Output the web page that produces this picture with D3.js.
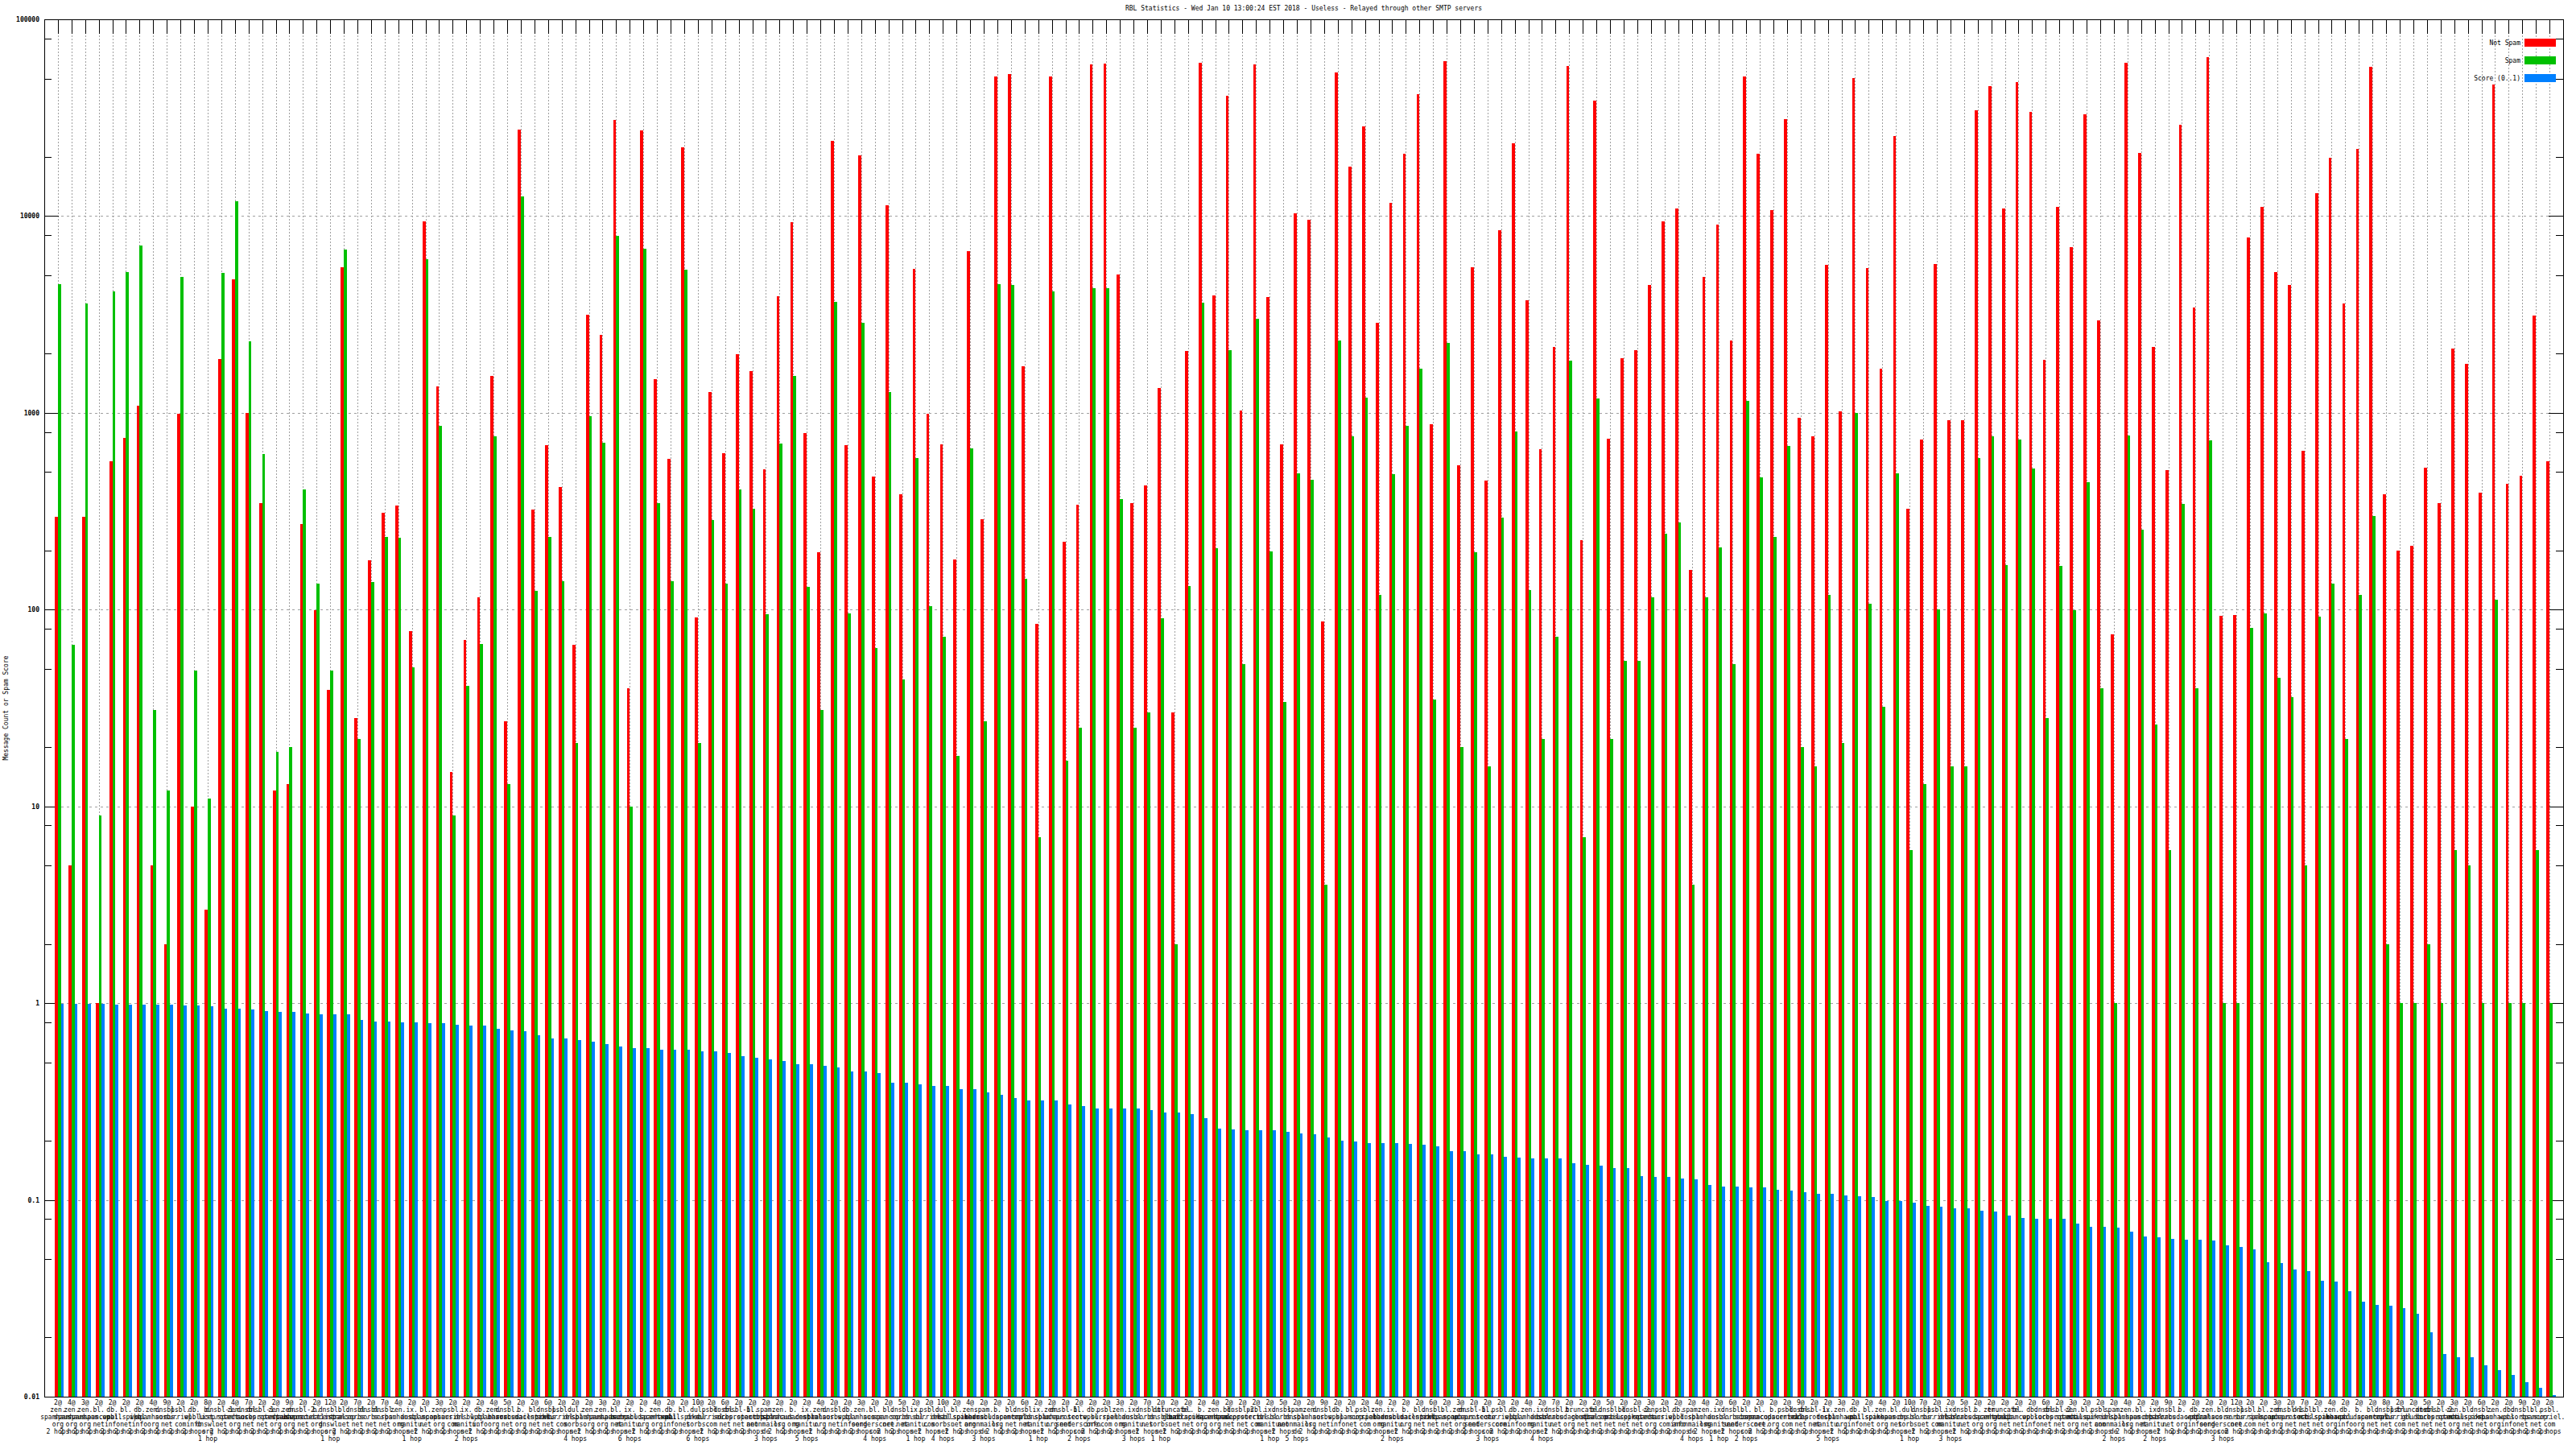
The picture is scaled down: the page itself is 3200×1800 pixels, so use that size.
<!DOCTYPE html>
<html><head><meta charset="utf-8">
<script src="https://cdn.jsdelivr.net/npm/d3@7"></script>
<style>body{margin:0;background:#fff}svg{display:block}</style>
</head><body>
<svg id="c" width="3200" height="1800"></svg>
<script>
const title = "RBL Statistics - Wed Jan 10 13:00:24 EST 2018 - Useless - Relayed through other SMTP servers";
const yAxisTitle = "Message Count or Spam Score";
const seriesNames = ["Not Spam", "Spam", "Score (0..1)"];
const seriesColors = ["#ff0000", "#00c000", "#0080ff"];
const yTickValues = [100000, 10000, 1000, 100, 10, 1, 0.1, 0.01];
const yTickLabels = ["100000", "10000", "1000", "100", "10", "1", "0.1", "0.01"];

const categories = [
"2@zen.spamhaus.org|2 hops","4@zen.spamhaus.org|2 hops","3@zen.spamhaus.org|2 hops","2@bl.spamcop.net|2 hops","2@db.wpbl.info|2 hops",
"2@bl.mailspike.net|2 hops","2@db.wpbl.info|2 hops","4@zen.spamhaus.org|2 hops","9@dnsbl.sorbs.net|2 hops","2@psbl.surriel.com|2 hops",
"2@db.wpbl.info|2 hops","8@b.list.dnswl.org|1 hop","2@dnsbl-1.uceprotect.net|2 hops","4@zen.spamhaus.org|2 hops","7@dnsbl.sorbs.net|2 hops",
"2@dnsbl-1.uceprotect.net|2 hops","2@zen.spamhaus.org|2 hops","9@zen.spamhaus.org|2 hops","2@dnsbl-2.uceprotect.net|2 hops","2@b.barracudacentral.org|2 hops",
"12@dnsbl.list.dnswl.org|1 hop","2@bl.spamcop.net|2 hops","7@dnsbl.sorbs.net|2 hops","2@dnsbl.sorbs.net|2 hops","7@dnsbl.sorbs.net|2 hops",
"4@zen.spamhaus.org|2 hops","2@ix.dnsbl.manitu.net|1 hop","2@bl.spamcop.net|2 hops","3@zen.spamhaus.org|2 hops","2@psbl.surriel.com|2 hops",
"2@ix.dnsbl.manitu.net|2 hops","2@db.wpbl.info|2 hops","4@zen.spamhaus.org|2 hops","5@dnsbl.sorbs.net|2 hops","2@b.barracudacentral.org|2 hops",
"2@bl.mailspike.net|2 hops","6@dnsbl.sorbs.net|2 hops","2@psbl.surriel.com|2 hops","2@dul.dnsbl.sorbs.net|4 hops","2@zen.spamhaus.org|2 hops",
"3@zen.spamhaus.org|2 hops","2@bl.spamcop.net|2 hops","2@ix.dnsbl.manitu.net|6 hops","2@b.barracudacentral.org|2 hops","4@zen.spamhaus.org|2 hops",
"2@db.wpbl.info|2 hops","2@bl.mailspike.net|2 hops","10@dul.dnsbl.sorbs.net|6 hops","2@psbl.surriel.com|2 hops","6@dnsbl.sorbs.net|2 hops",
"2@dnsbl-1.uceprotect.net|2 hops","2@bl.spamcop.net|2 hops","2@spam.dnsbl.anonmails.de|3 hops","2@zen.spamhaus.org|2 hops","2@b.barracudacentral.org|2 hops",
"2@ix.dnsbl.manitu.net|5 hops","4@zen.spamhaus.org|2 hops","2@dnsbl.sorbs.net|2 hops","2@db.wpbl.info|2 hops","3@zen.spamhaus.org|2 hops",
"2@bl.score.senderscore.com|4 hops","2@bl.spamcop.net|2 hops","5@dnsbl.sorbs.net|2 hops","2@ix.dnsbl.manitu.net|1 hop","2@psbl.surriel.com|2 hops",
"10@dul.dnsbl.sorbs.net|4 hops","2@bl.mailspike.net|2 hops","4@zen.spamhaus.org|2 hops","2@spam.dnsbl.anonmails.de|3 hops","2@b.barracudacentral.org|2 hops",
"2@bl.spamcop.net|2 hops","6@dnsbl.sorbs.net|2 hops","2@ix.dnsbl.manitu.net|1 hop","2@zen.spamhaus.org|2 hops","2@dnsbl-1.uceprotect.net|2 hops",
"2@bl.score.senderscore.com|2 hops","2@db.wpbl.info|2 hops","2@psbl.surriel.com|2 hops","3@zen.spamhaus.org|2 hops","2@ix.dnsbl.manitu.net|3 hops",
"7@dnsbl.sorbs.net|2 hops","2@dul.dnsbl.sorbs.net|1 hop","2@truncate.gbudb.net|2 hops","2@bl.mailspike.net|2 hops","2@b.barracudacentral.org|2 hops",
"4@zen.spamhaus.org|2 hops","2@bl.spamcop.net|2 hops","2@dnsbl-2.uceprotect.net|2 hops","2@psbl.surriel.com|2 hops","2@ix.dnsbl.manitu.net|1 hop",
"5@dnsbl.sorbs.net|2 hops","2@spam.dnsbl.anonmails.de|5 hops","2@zen.spamhaus.org|2 hops","9@dnsbl.sorbs.net|2 hops","2@db.wpbl.info|2 hops",
"2@bl.spamcop.net|2 hops","2@psbl.surriel.com|2 hops","4@zen.spamhaus.org|2 hops","2@ix.dnsbl.manitu.net|2 hops","2@b.barracudacentral.org|2 hops",
"2@bl.mailspike.net|2 hops","6@dnsbl.sorbs.net|2 hops","2@bl.spamcop.net|2 hops","3@zen.spamhaus.org|2 hops","2@dnsbl-1.uceprotect.net|2 hops",
"2@bl.score.senderscore.com|3 hops","2@psbl.surriel.com|2 hops","2@db.wpbl.info|2 hops","4@zen.spamhaus.org|2 hops","2@ix.dnsbl.manitu.net|4 hops",
"7@dnsbl.sorbs.net|2 hops","2@b.barracudacentral.org|2 hops","2@truncate.gbudb.net|2 hops","2@bl.spamcop.net|2 hops","5@dnsbl.sorbs.net|2 hops",
"2@bl.mailspike.net|2 hops","2@dnsbl-2.uceprotect.net|2 hops","3@zen.spamhaus.org|2 hops","2@psbl.surriel.com|2 hops","2@db.wpbl.info|2 hops",
"2@spam.dnsbl.anonmails.de|4 hops","4@zen.spamhaus.org|2 hops","2@ix.dnsbl.manitu.net|1 hop","6@dnsbl.sorbs.net|2 hops","2@bl.score.senderscore.com|2 hops",
"2@bl.spamcop.net|2 hops","2@b.barracudacentral.org|2 hops","2@psbl.surriel.com|2 hops","9@dnsbl.sorbs.net|2 hops","2@dnsbl-1.uceprotect.net|2 hops",
"2@ix.dnsbl.manitu.net|5 hops","3@zen.spamhaus.org|2 hops","2@db.wpbl.info|2 hops","2@bl.mailspike.net|2 hops","4@zen.spamhaus.org|2 hops",
"2@bl.spamcop.net|2 hops","10@dul.dnsbl.sorbs.net|1 hop","7@dnsbl.sorbs.net|2 hops","2@psbl.surriel.com|2 hops","2@ix.dnsbl.manitu.net|3 hops",
"5@dnsbl.sorbs.net|2 hops","2@b.barracudacentral.org|2 hops","2@zen.spamhaus.org|2 hops","2@truncate.gbudb.net|2 hops","2@bl.spamcop.net|2 hops",
"2@db.wpbl.info|2 hops","6@dnsbl.sorbs.net|2 hops","2@dnsbl-2.uceprotect.net|2 hops","3@zen.spamhaus.org|2 hops","2@bl.mailspike.net|2 hops",
"2@psbl.surriel.com|2 hops","2@spam.dnsbl.anonmails.de|2 hops","4@zen.spamhaus.org|2 hops","2@bl.spamcop.net|2 hops","2@ix.dnsbl.manitu.net|2 hops",
"9@dnsbl.sorbs.net|2 hops","2@b.barracudacentral.org|2 hops","2@db.wpbl.info|2 hops","2@zen.spamhaus.org|2 hops","2@bl.score.senderscore.com|3 hops",
"12@dnsbl.sorbs.net|2 hops","2@psbl.surriel.com|2 hops","2@bl.spamcop.net|2 hops","3@zen.spamhaus.org|2 hops","2@dnsbl-1.uceprotect.net|2 hops",
"7@dnsbl.sorbs.net|2 hops","2@bl.mailspike.net|2 hops","4@zen.spamhaus.org|2 hops","2@db.wpbl.info|2 hops","2@b.barracudacentral.org|2 hops",
"2@bl.spamcop.net|2 hops","8@dnsbl.sorbs.net|2 hops","2@psbl.surriel.com|2 hops","2@truncate.gbudb.net|2 hops","5@dnsbl.sorbs.net|2 hops",
"2@dnsbl-2.uceprotect.net|2 hops","3@zen.spamhaus.org|2 hops","2@bl.mailspike.net|2 hops","6@dnsbl.sorbs.net|2 hops","2@zen.spamhaus.org|2 hops",
"2@db.wpbl.info|2 hops","9@dnsbl.sorbs.net|2 hops","2@bl.spamcop.net|2 hops","2@psbl.surriel.com|2 hops"
];

const notSpam = [
296,5,296,1,566,748,1087,5,2,990,10,3,1880,4750,1000,349,12,13,272,99,39,5500,28,178,311,338,78,9400,1365,15,
70,116,1540,27,27500,321,682,420,66,3150,2480,30800,40,27200,1480,585,22400,91,1280,622,1980,1630,517,3910,9300,789,196,24000,682,20400,475,
11300,386,5380,990,690,180,6620,287,51200,52700,1730,85,51200,221,342,59000,59700,5060,349,429,1336,30,2060,60300,3950,40700,1030,59000,3860,690,10300,
9600,87,53800,17800,28600,2860,11700,20800,41600,875,61000,543,5500,452,8480,23500,3720,655,2170,57800,226,38600,741,1900,2080,4470,9400,10900,159,4910,9020,
2330,51200,20800,10700,31100,940,757,5660,1020,50100,5430,1680,25600,324,733,5730,920,920,34500,45600,10900,48100,33800,1860,11100,6960,32800,2960,75,60300,21000,
2170,512,29200,3420,64100,93,94,7800,11100,5170,4470,641,13100,19800,3600,21900,57200,386,200,212,527,349,2120,1780,394,46600,437,481,3110,566
];

const spam = [
4520,66,3600,9,4160,5170,7110,31,12,4910,49,11,5120,11900,2310,615,19,20,408,136,49,6760,22,138,233,231,51,6030,857,9,
41,67,757,13,12550,124,233,139,21,960,705,7960,10,6820,349,139,5320,21,284,135,408,324,95,697,1540,131,31,3670,96,2860,64,
1280,44,590,104,73,18,662,27,4520,4470,144,7,4160,17,25,4290,4290,364,25,30,90,2,132,3640,206,2080,53,3020,198,34,491,
456,4,2330,757,1200,119,486,857,1680,35,2260,20,196,16,293,805,126,22,73,1840,7,1180,22,55,55,116,243,278,4,116,208,
53,1155,471,233,676,20,16,119,21,1000,107,32,491,6,13,100,16,16,590,757,169,733,521,28,166,99,446,40,1,765,256,
26,6,345,40,727,1,1,81,96,45,36,5,92,135,22,119,299,2,1,1,2,1,6,5,1,112,1,1,6,1
];

const score = [
0.99,0.99,0.99,0.99,0.98,0.98,0.98,0.98,0.98,0.97,0.97,0.96,0.94,0.94,0.93,0.91,0.90,0.90,0.89,0.88,0.88,0.88,0.82,0.81,0.81,0.80,0.80,0.79,0.79,0.78,
0.77,0.77,0.74,0.73,0.72,0.69,0.66,0.66,0.65,0.64,0.62,0.60,0.59,0.59,0.58,0.58,0.58,0.57,0.57,0.56,0.54,0.53,0.52,0.51,0.49,0.49,0.48,0.47,0.45,0.45,0.44,
0.394,0.394,0.386,0.378,0.378,0.367,0.367,0.352,0.342,0.328,0.321,0.321,0.321,0.305,0.299,0.292,0.292,0.292,0.292,0.287,0.278,0.278,0.272,0.261,0.231,0.228,0.226,0.226,0.226,0.221,0.217,
0.215,0.208,0.200,0.198,0.195,0.194,0.194,0.192,0.190,0.188,0.177,0.177,0.171,0.171,0.166,0.164,0.163,0.163,0.163,0.154,0.151,0.150,0.145,0.145,0.132,0.131,0.131,0.128,0.127,0.119,0.117,
0.117,0.116,0.116,0.113,0.111,0.109,0.107,0.107,0.105,0.104,0.103,0.099,0.099,0.097,0.093,0.092,0.091,0.091,0.088,0.087,0.083,0.081,0.080,0.080,0.080,0.076,0.073,0.073,0.072,0.069,0.065,
0.0648,0.0636,0.0629,0.0629,0.0622,0.0585,0.0578,0.0561,0.0481,0.0476,0.0442,0.0433,0.0387,0.0383,0.0342,0.0305,0.0293,0.0290,0.0281,0.0264,0.0212,0.0164,0.0159,0.0159,0.0144,0.0136,0.0129,0.0118,0.0111,0.0102
];

const series = [notSpam, spam, score];

// ---------- layout ----------
const W = 3200, H = 1800;
const L = 55, R = 3184, T = 24, B = 1735;
const FONT = "'DejaVu Sans Mono', 'Liberation Mono', monospace";
const svg = d3.select("#c");
svg.append("rect").attr("width", W).attr("height", H).attr("fill", "#fff");

const n = categories.length;
const x = d3.scaleLinear().domain([-1, n]).range([L, R]);
const y = d3.scaleLog().domain([0.01, 100000]).range([B, T]);
const step = x(1) - x(0);
const bw = step * 0.22;

const g = svg.append("g").attr("shape-rendering", "crispEdges");

// grid: vertical dotted at each category
g.append("g").selectAll("line").data(d3.range(n)).join("line")
  .attr("x1", i => Math.round(x(i)) + 0.5).attr("x2", i => Math.round(x(i)) + 0.5)
  .attr("y1", T).attr("y2", B)
  .attr("stroke", "#a0a0a0").attr("stroke-width", 1).attr("stroke-dasharray", "2,2");

// grid: horizontal dashed at decades
const gridDecades = yTickValues.filter(v => v < 100000 && v > 0.01);
g.append("g").selectAll("line").data(gridDecades).join("line")
  .attr("x1", L).attr("x2", R)
  .attr("y1", v => Math.round(y(v)) + 0.5).attr("y2", v => Math.round(y(v)) + 0.5)
  .attr("stroke", "#a0a0a0").attr("stroke-width", 1).attr("stroke-dasharray", "3,4");

// y axes (left + mirrored right) with major and minor ticks
const minorVals = [];
for (let e = -2; e < 5; e++) [2, 5, 8].forEach(m => minorVals.push(m * Math.pow(10, e)));

function yAxisTicks(axisFn, side, vals, size) {
  const a = g.append("g").attr("transform", `translate(${side},0)`)
    .call(axisFn(y).tickValues(vals).tickSize(size).tickFormat(""));
  a.select(".domain").remove();
  a.selectAll("line").attr("stroke", "#000");
}
yAxisTicks(d3.axisRight, L, yTickValues, 18); yAxisTicks(d3.axisRight, L, minorVals, 9);
yAxisTicks(d3.axisLeft, R, yTickValues, 18); yAxisTicks(d3.axisLeft, R, minorVals, 9);

// top and bottom category ticks
const xTop = g.append("g").attr("transform", `translate(0,${T})`)
  .call(d3.axisBottom(x).tickValues(d3.range(n)).tickSize(18).tickFormat(""));
xTop.select(".domain").remove();
xTop.selectAll(".tick").attr("transform", i => `translate(${Math.round(x(i)) + 0.5},0)`);
xTop.selectAll("line").attr("stroke", "#000");

const xBot = g.append("g").attr("transform", `translate(0,${B})`)
  .call(d3.axisTop(x).tickValues(d3.range(n)).tickSize(18).tickFormat(""));
xBot.select(".domain").remove();
xBot.selectAll(".tick").attr("transform", i => `translate(${Math.round(x(i)) + 0.5},0)`);
xBot.selectAll("line").attr("stroke", "#000");

// bars
series.forEach((vals, s) => {
  g.append("g").selectAll("rect").data(vals).join("rect")
    .attr("x", (v, i) => x(i) - bw + s * bw)
    .attr("width", bw)
    .attr("y", v => y(v))
    .attr("height", v => B - y(v))
    .attr("fill", seriesColors[s]);
});

// border
g.append("rect").attr("x", L + 0.5).attr("y", T + 0.5).attr("width", R - L).attr("height", B - T)
  .attr("fill", "none").attr("stroke", "#000");

// y tick labels
svg.append("g").selectAll("text").data(yTickValues).join("text")
  .attr("x", 49).attr("y", v => y(v) + 3)
  .attr("text-anchor", "end").attr("font-family", FONT).attr("font-size", 8)
  .attr("font-weight", "bold").text((v, i) => yTickLabels[i]);

// category labels (multi-line, centered under each tick)
const catG = svg.append("g").attr("font-family", FONT).attr("font-size", 8).attr("text-anchor", "middle");
categories.forEach((c, i) => {
  const [head, hops] = c.split("|");
  const at = head.indexOf("@");
  const parts = head.slice(at + 1).split(".");
  const lines = [head.slice(0, at + 1)].concat(parts.map((p, k) => k < parts.length - 1 ? p + "." : p)).concat([hops]);
  const t = catG.append("text").attr("x", x(i)).attr("y", 1745);
  lines.forEach((ln, k) => t.append("tspan").attr("x", x(i)).attr("y", 1745 + k * 9).text(ln));
});

// title
svg.append("text").attr("x", (L + R) / 2).attr("y", 13).attr("text-anchor", "middle")
  .attr("font-family", FONT).attr("font-size", 8).text(title);

// y axis title
svg.append("text").attr("transform", `translate(10,${(T + B) / 2}) rotate(-90)`)
  .attr("text-anchor", "middle").attr("font-family", FONT).attr("font-size", 8).text(yAxisTitle);

// legend
const leg = svg.append("g");
seriesNames.forEach((name, k) => {
  const cy = 53 + k * 22;
  leg.append("text").attr("x", 3131).attr("y", cy + 3).attr("text-anchor", "end")
    .attr("font-family", FONT).attr("font-size", 8).text(name);
  leg.append("rect").attr("x", 3136).attr("y", cy - 5).attr("width", 39).attr("height", 10)
    .attr("fill", seriesColors[k]);
});
</script>
</body></html>
